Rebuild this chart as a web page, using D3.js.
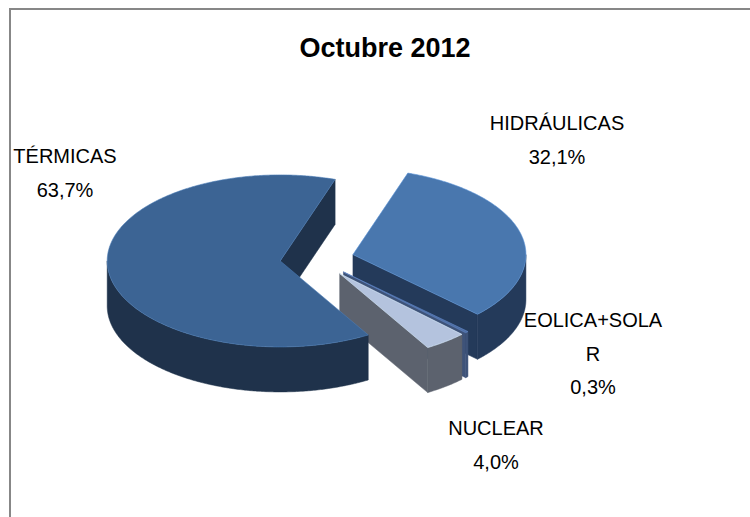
<!DOCTYPE html>
<html>
<head>
<meta charset="utf-8">
<script src="https://cdn.jsdelivr.net/npm/d3@7"></script>
<style>
  body { margin: 0; background: #fff; }
  svg { display: block; font-family: "Liberation Sans", Arial, sans-serif; }
</style>
</head>
<body>
<div id="chart-area"></div>
<script>
// data
const categories = ["HIDRÁULICAS", "EOLICA+SOLAR", "NUCLEAR", "TÉRMICAS"]
const values = [32.1, 0.3, 4.0, 63.7]
const labelLines = [["HIDRÁULICAS"], ["EOLICA+SOLA", "R"], ["NUCLEAR"], ["TÉRMICAS"]]
const chartTitle = "Octubre 2012"

// styles
const topColors = ["#4977ae", "#4f6ea2", "#b4c3de", "#3c6494"]
const sideColors = ["#243a5a", "#3e5379", "#5c626e", "#1f324b"]
const labelAnchor = [[557, 130], [593, 327], [496, 435], [65, 163]]
const lineHeight = 33.5

const width = 750, height = 517
const cx = 317, cy = 259, rx = 173, ry = 86, depth = 45, explode = 37
const firstAngle = 18.5 * Math.PI / 180

const pctFormat = d3.formatLocale({ decimal: ",", thousands: ".", grouping: [3], currency: ["", ""] }).format(".1%")

const svg = d3.select("#chart-area")
  .append("svg")
  .attr("width", width)
  .attr("height", height)

// outer frame (runs off the right and bottom of the picture)
svg.append("rect")
  .attr("x", 10).attr("y", 9)
  .attr("width", 800).attr("height", 600)
  .attr("fill", "none")
  .attr("stroke", "#878787")
  .attr("stroke-width", 2)

svg.append("text")
  .attr("x", 385).attr("y", 57)
  .attr("text-anchor", "middle")
  .attr("font-weight", "bold")
  .attr("font-size", 27)
  .attr("fill", "#000")
  .text(chartTitle)

const pie = d3.pie().sort(null)
  .startAngle(firstAngle)
  .endAngle(firstAngle + 2 * Math.PI)
const arcs = pie(values)
const total = d3.sum(values)

// point on the tilted rim, angle 0 = top, clockwise
const rim = (o, a, dy = 0) => [o[0] + rx * Math.sin(a), o[1] - ry * Math.cos(a) + dy]
const arcPoints = (o, a0, a1, dy = 0) => {
  const n = Math.max(2, Math.ceil(Math.abs(a1 - a0) / 0.01))
  return d3.range(n + 1).map(i => rim(o, a0 + (a1 - a0) * i / n, dy))
}
const line = d3.line()

const pieG = svg.append("g")

arcs.forEach((d, i) => {
  const mid = (d.startAngle + d.endAngle) / 2
  const o = [cx + explode * Math.sin(mid), cy - explode * (ry / rx) * Math.cos(mid)]
  const g = pieG.append("g")

  // radial faces
  const face = a => [o, rim(o, a), rim(o, a, depth), [o[0], o[1] + depth]]
  if (Math.sin(d.endAngle) > 0) {
    g.append("path").attr("d", line(face(d.endAngle)) + "Z")
      .attr("fill", sideColors[i]).attr("stroke", sideColors[i]).attr("stroke-width", 0.5)
  }
  if (Math.sin(d.startAngle) < 0) {
    g.append("path").attr("d", line(face(d.startAngle)) + "Z")
      .attr("fill", sideColors[i]).attr("stroke", sideColors[i]).attr("stroke-width", 0.5)
  }

  // outer wall, only the part turned to the viewer
  for (let k = 0; k < 2; k++) {
    const s = Math.max(d.startAngle, Math.PI / 2 + 2 * Math.PI * k)
    const e = Math.min(d.endAngle, 3 * Math.PI / 2 + 2 * Math.PI * k)
    if (e > s) {
      const pts = arcPoints(o, s, e).concat(arcPoints(o, e, s, depth))
      g.append("path").attr("d", line(pts) + "Z")
        .attr("fill", sideColors[i]).attr("stroke", sideColors[i]).attr("stroke-width", 0.5)
    }
  }

  // top face
  const topPts = [o].concat(arcPoints(o, d.startAngle, d.endAngle))
  g.append("path").attr("d", line(topPts) + "Z")
    .attr("fill", topColors[i])
    .attr("stroke", d3.color(topColors[i]).brighter(0.6))
    .attr("stroke-width", 0.6)
})

// data labels
const labels = svg.append("g")
  .attr("font-size", 20)
  .attr("fill", "#000")
  .attr("text-anchor", "middle")

categories.forEach((c, i) => {
  const lines = labelLines[i].concat([pctFormat(values[i] / 100)])
  const t = labels.append("text")
    .attr("x", labelAnchor[i][0])
    .attr("y", labelAnchor[i][1])
  lines.forEach((l, j) => {
    t.append("tspan")
      .attr("x", labelAnchor[i][0])
      .attr("dy", j === 0 ? 0 : lineHeight)
      .text(l)
  })
})
</script>
</body>
</html>
